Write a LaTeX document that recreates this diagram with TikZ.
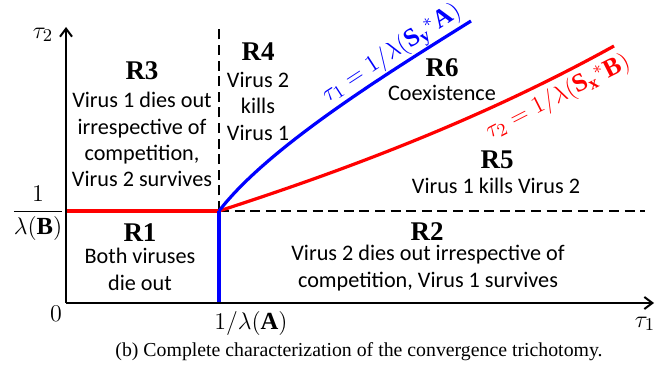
\documentclass[tikz,border=0pt]{standalone}
\usepackage{amsmath}
\usepackage{fontspec}
\setmainfont{Liberation Serif}
\newfontfamily\calib{Carlito}
\usetikzlibrary{arrows.meta}
\definecolor{cblue}{RGB}{0,0,255}
\definecolor{cred}{RGB}{255,0,0}
\tikzset{
  axisline/.style={line width=1pt,-{Straight Barb[length=4pt,width=6pt,line width=1pt]}},
  dashline/.style={line width=0.9pt,dash pattern=on 5pt off 2.8pt},
  bluecurve/.style={line width=1.6pt,draw=cblue},
  redcurve/.style={line width=1.6pt,draw=cred},
  regtitle/.style={font=\fontsize{13.5}{14}\selectfont\bfseries,inner sep=0pt},
  regtext/.style={font=\calib\fontsize{11.1}{13.1}\selectfont,align=center,inner sep=0pt},
  mathlbl/.style={font=\fontsize{12.3}{14}\selectfont,inner sep=0pt},
  curvelbl/.style={font=\fontsize{12.8}{15}\selectfont,inner sep=0pt},
}
\begin{document}
\begin{tikzpicture}[x=0.5pt,y=-0.5pt]
\useasboundingbox (0,0) rectangle (667,374);
% coordinates
\coordinate (O) at (66,303);
\coordinate (P) at (219,211);
\coordinate (ytip) at (66,27);
\coordinate (xtip) at (654,303);
\coordinate (yleft) at (66,211);
\coordinate (vtop) at (219,28);
\coordinate (hright) at (645,211);
\coordinate (vbot) at (219,303);
\coordinate (bend) at (471,21);
\coordinate (rend) at (614,46);
% dashed
\draw[dashline] (P) -- (vtop);
\draw[dashline] (P) -- (hright);
% curves
\draw[redcurve] (yleft) -- (P);
\draw[redcurve] (P) .. controls (349,169) and (484,118) .. (rend);
\draw[bluecurve] (P) -- (vbot);
\draw[bluecurve] (P) .. controls (269,146) and (391,71) .. (bend);
% axes
\draw[axisline] (O) -- (ytip);
\draw[axisline] (O) -- (xtip);
% axis labels
\node[mathlbl] (t2) at (43,35) {$\tau_2$};
\node[mathlbl] (t1) at (645,324) {$\tau_1$};
\node[mathlbl] (zero) at (56,314) {$0$};
\node[mathlbl] (lamA) at (251,323) {$1/\lambda(\mathbf{A})$};
\node[mathlbl] (lamB) at (38,213) {$\dfrac{1}{\lambda(\mathbf{B})}$};
% curve labels
\node[curvelbl,text=cblue,rotate=33] (blbl) at (392,54) {$\tau_1 = 1/\lambda(\mathbf{S}_{\mathbf{y}}{}^{*}\mathbf{A})$};
\node[curvelbl,text=cred,rotate=27] (rlbl) at (558,97) {$\tau_2 = 1/\lambda(\mathbf{S}_{\mathbf{x}}{}^{*}\mathbf{B})$};
% regions
\node[regtitle] (R3) at (142,71) {R3};
\node[regtext,anchor=north] (R3t) at (142,92) {Virus 1 dies out\\irrespective of\\competition,\\Virus 2 survives};
\node[regtitle] (R4) at (258,52) {R4};
\node[regtext,anchor=north] (R4t) at (258,72) {Virus 2\\kills\\Virus 1};
\node[regtitle] (R6) at (442,68) {R6};
\node[regtext] (R6t) at (442,93) {Coexistence};
\node[regtitle] (R5) at (497,160) {R5};
\node[regtext] (R5t) at (496,186) {Virus 1 kills Virus 2};
\node[regtitle] (R1) at (140,233) {R1};
\node[regtext,anchor=north] (R1t) at (140,248) {Both viruses\\die out};
\node[regtitle] (R2) at (427,232) {R2};
\node[regtext,anchor=north] (R2t) at (428,245) {Virus 2 dies out irrespective of\\competition, Virus 1 survives};
% caption
\node[font=\fontsize{9.9}{11}\selectfont,inner sep=0pt] (cap) at (359,352) {(b) Complete characterization of the convergence trichotomy.};
\end{tikzpicture}
\end{document}
